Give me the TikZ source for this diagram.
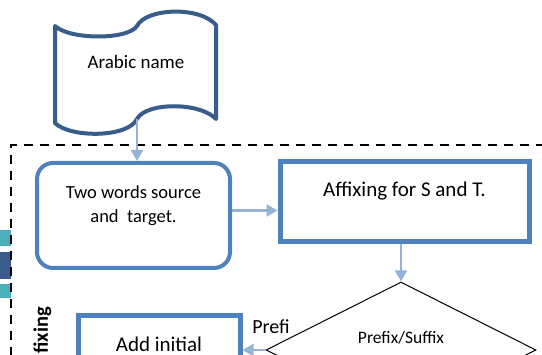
\documentclass[tikz,border=0pt]{standalone}
\usepackage{fontspec}
\setmainfont{Carlito}
\usetikzlibrary{arrows.meta,shapes.geometric}
\definecolor{boxblue}{HTML}{4F81BD}
\definecolor{docblue}{HTML}{385D8A}
\definecolor{arrblue}{HTML}{95B3D7}
\definecolor{tealbar}{HTML}{4AAFBA}
\definecolor{navybar}{HTML}{3A5A8C}
\begin{document}
\begin{tikzpicture}[x=1pt,y=-1pt,
  arr/.style={draw=arrblue, line width=2.3pt, -{Triangle[length=11pt,width=12pt]}},
  sbox/.style={draw=boxblue, line width=5pt, fill=white, inner sep=0pt},
  rbox/.style={draw=boxblue, line width=4pt, fill=white, rounded corners=16pt, inner sep=0pt, align=center},
  lbl/.style={inner sep=0pt}]
\useasboundingbox (0,0) rectangle (542,355);
\clip (0,0) rectangle (542,355);
% side bars
\fill[tealbar] (0,230) rectangle (11,246);
\fill[navybar] (0,252) rectangle (11,279);
\fill[tealbar] (0,284) rectangle (11,298);
% dashed frame
\draw[black, line width=2.2pt, dash pattern=on 9pt off 7pt] (11,420) -- (11,145) -- (600,145);
% document shape
\draw[docblue, line width=4pt, line join=round, fill=white]
  (55,26) .. controls (70,40) and (128,40) .. (137,26)
  .. controls (146,8) and (200,6) .. (216,25) -- (216,119)
  .. controls (200,102) and (146,102) .. (137,119)
  .. controls (128,138) and (70,138) .. (55,123) -- cycle;
\node[lbl, font=\fontsize{19}{22}\selectfont] (doc) at (136,62) {Arabic name};
\coordinate (docb) at (137,119);
% boxes
\node[rbox, minimum width=193pt, minimum height=105pt, text depth=22pt,
  font=\fontsize{18.5}{24}\selectfont] (src) at (133.5,215.5) {Two words source\\and\ \ target.};
\node[sbox, minimum width=249pt, minimum height=80pt, text depth=26pt,
  font=\fontsize{21}{25}\selectfont] (aff) at (404.5,202) {Affixing for S and T.};
\node[diamond, draw=black, line width=1pt, fill=white, minimum width=270pt, minimum height=136pt,
  inner sep=0pt, text depth=26pt, font=\fontsize{17.5}{20}\selectfont] (dia) at (401,350) {Prefix/Suffix};
\node[sbox, minimum width=162pt, minimum height=56pt, font=\fontsize{21}{25}\selectfont] (add) at (159,344) {Add initial};
\node[lbl, font=\fontsize{20}{24}\selectfont] (prefi) at (271,327) {Prefi};
\node[lbl, font=\bfseries\fontsize{20.5}{24}\selectfont, rotate=90, anchor=east] (fix) at (42.5,307) {fixing};
% connectors
\draw[arr] (docb) -- (docb |- src.north);
\draw[arr] ([yshift=5pt]src.east) -- ([yshift=5pt]src.east -| aff.west);
\draw[arr] (aff.south -| dia.north) -- (dia.north);
\draw[arr] (dia.west) -- (dia.west -| add.east);
\end{tikzpicture}
\end{document}
